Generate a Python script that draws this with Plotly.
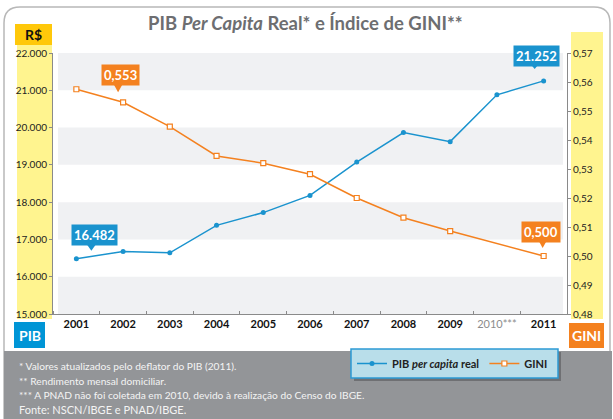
import plotly.graph_objects as go

# ---------------- data ----------------
years = ["2001", "2002", "2003", "2004", "2005", "2006", "2007", "2008", "2009", "2010", "2011"]
year_labels = ["2001", "2002", "2003", "2004", "2005", "2006", "2007", "2008", "2009", "2010***", "2011"]
pib = [16482, 16677, 16642, 17378, 17720, 18180, 19074, 19865, 19623, 20878, 21252]
gini = [0.5575, 0.553, 0.5446, 0.5345, 0.532, 0.5282, 0.520, 0.5132, 0.5086, None, 0.500]

title_text = "PIB <i>Per Capita</i> Real* e Índice de GINI**"
notes = [
    "* Valores atualizados pelo deflator do PIB (2011).",
    "** Rendimento mensal domiciliar.",
    "*** A PNAD não foi coletada em 2010, devido à realização do Censo do IBGE.",
]
source = "Fonte: NSCN/IBGE e PNAD/IBGE."

xpos = list(range(len(years)))

# ---------------- layout helpers ----------------
W, H = 613, 419
L, R, T, B = 53, 46, 53, 105
PW, PH = W - L - R, H - T - B

def px(x):
    return (x - L) / PW

def py(y):
    return (H - B - y) / PH

BLUE = "#1A93CE"
ORANGE = "#F4811F"
FONT = "Lato"

fig = go.Figure()

fig.add_trace(go.Scatter(
    x=xpos, y=pib, name="PIB <i>per capita</i> real", mode="lines+markers",
    line=dict(color=BLUE, width=1.5), marker=dict(color=BLUE, size=5, symbol="circle"),
    yaxis="y"))
fig.add_trace(go.Scatter(
    x=xpos, y=gini, name="GINI", mode="lines+markers", connectgaps=True,
    line=dict(color=ORANGE, width=1.5),
    marker=dict(color="white", size=5, symbol="square", line=dict(color=ORANGE, width=1.2)),
    yaxis="y2"))

shapes = []
# outer rounded panel border
r = 16
x0, y0, x1, y1 = 4, 7, 610, 430
path = (f"M{px(x0)},{py(y1)} L{px(x0)},{py(y0 + r)} Q{px(x0)},{py(y0)} {px(x0 + r)},{py(y0)} "
        f"L{px(x1 - r)},{py(y0)} Q{px(x1)},{py(y0)} {px(x1)},{py(y0 + r)} L{px(x1)},{py(y1)}")
shapes.append(dict(type="path", xref="paper", yref="paper", path=path,
                   line=dict(color="#B8B8B8", width=1.5), layer="below"))
# footer grey band
shapes.append(dict(type="rect", xref="paper", yref="paper", x0=px(4), x1=px(612), y0=py(351), y1=py(421),
                   fillcolor="#939598", line=dict(width=0), layer="below"))
# yellow axis bands
shapes.append(dict(type="rect", xref="paper", yref="paper", x0=px(17), x1=px(52), y0=py(45), y1=py(319),
                   fillcolor="#FFF48F", line=dict(width=0), layer="below"))
shapes.append(dict(type="rect", xref="paper", yref="paper", x0=px(571), x1=px(603), y0=py(32), y1=py(319),
                   fillcolor="#FFF48F", line=dict(width=0), layer="below"))
# axis title boxes
shapes.append(dict(type="rect", xref="paper", yref="paper", x0=px(15), x1=px(52), y0=py(24), y1=py(45),
                   fillcolor="#FFC80A", line=dict(width=0), layer="below"))
shapes.append(dict(type="rect", xref="paper", yref="paper", x0=px(14), x1=px(45), y0=py(322), y1=py(348),
                   fillcolor="#0095D6", line=dict(width=0), layer="below"))
shapes.append(dict(type="rect", xref="paper", yref="paper", x0=px(569), x1=px(604), y0=py(323), y1=py(348),
                   fillcolor="#F4811F", line=dict(width=0), layer="below"))
# alternating background bands
for lo in [21000, 19000, 17000, 15000]:
    shapes.append(dict(type="rect", xref="paper", yref="y", x0=px(58), x1=px(563), y0=lo, y1=lo + 1000,
                       fillcolor="#F0F1F3", line=dict(width=0), layer="below"))
# legend box with shadow
shapes.append(dict(type="rect", xref="paper", yref="paper", x0=px(354), x1=px(561), y0=py(352), y1=py(381),
                   fillcolor="#6F7073", line=dict(width=0), layer="below"))
shapes.append(dict(type="rect", xref="paper", yref="paper", x0=px(351), x1=px(558), y0=py(349), y1=py(378),
                   fillcolor="#B9DEEA", line=dict(color="#2C9AD5", width=1.5), layer="below"))

annotations = []
def label(text, x, y, size, color, xanchor="center", weight="normal"):
    annotations.append(dict(text=text, xref="paper", yref="paper", x=px(x), y=py(y),
                            xanchor=xanchor, yanchor="middle", showarrow=False,
                            font=dict(family=FONT, size=size, color=color, weight=weight)))

label(title_text, 305, 23, 18.5, "#6D6E71", weight="bold")
label("<b>R$</b>", 33.5, 34.5, 14, "#111")
label("<b>PIB</b>", 29.5, 335, 14, "white")
label("<b>GINI</b>", 586.5, 335.5, 14, "white")
for i, t in enumerate(notes):
    label(t, 17, 366 + 14.5 * i, 10.2, "#F4F4F4", xanchor="left")
label(source, 17, 409, 11, "#F4F4F4", xanchor="left")

# value callouts
def fmt_pib(v):
    return f"{v:,.0f}".replace(",", ".")

def fmt_gini(v):
    return f"{v:.3f}".replace(".", ",")

callouts = [
    (0, pib[0], "y", fmt_pib(pib[0]), BLUE, 18, 23.5, "M10,15 L20,15 L15,8 Z"),
    (1, gini[1], "y2", fmt_gini(gini[1]), ORANGE, -3, 27, "M-10,19 L0,19 L-5,10 Z"),
    (10, pib[10], "y", fmt_pib(pib[10]), BLUE, -7.5, 25, "M-14,18 L-4,18 L-9,12 Z"),
    (10, gini[10], "y2", fmt_gini(gini[10]), ORANGE, -2.5, 24.5, "M-6,17 L4,17 L-1,8 Z"),
]
for xi, yv, yr, txt, col, xs, ys, tri in callouts:
    annotations.append(dict(text=f"<b>{txt}</b>", xref="x", yref=yr, x=xpos[xi], y=yv,
                            xanchor="center", yanchor="middle",
                            xshift=xs, yshift=ys, showarrow=False, bgcolor=col, borderpad=2,
                            font=dict(family=FONT, size=13, color="white")))
    shapes.append(dict(type="path", xref="x", yref=yr, xsizemode="pixel", ysizemode="pixel",
                       xanchor=xpos[xi], yanchor=yv, path=tri, fillcolor=col, line=dict(width=0)))

ticktext = [f"<span style='color:#8C8C8C'>{lab}</span>" if "*" in lab else f"<b>{lab}</b>"
            for lab in year_labels]

fig.update_layout(
    width=W, height=H, autosize=False,
    margin=dict(l=L, r=R, t=T, b=B, pad=0),
    paper_bgcolor="white", plot_bgcolor="white",
    separators=",.",
    font=dict(family=FONT, color="#222"),
    showlegend=True,
    legend=dict(orientation="h", x=px(352), y=py(363.5), xanchor="left", yanchor="middle",
                bgcolor="rgba(0,0,0,0)", borderwidth=0,
                font=dict(family=FONT, size=11, color="#222", weight="bold"),
                itemwidth=30, tracegroupgap=0),
    xaxis=dict(range=[-0.5, len(years) - 0.5], tickvals=xpos, ticktext=ticktext, showgrid=False,
               zeroline=False, showline=True, linecolor="#8A8A8A", linewidth=1,
               ticks="", automargin=False,
               minor=dict(tick0=0.5, dtick=1, ticks="inside", ticklen=3, tickcolor="#8A8A8A", showgrid=False),
               tickfont=dict(family=FONT, size=11, color="#111")),
    yaxis=dict(range=[15000, 22000], dtick=1000, tickformat=",.0f", showgrid=False, zeroline=False,
               showline=True, linecolor="#8A8A8A", linewidth=1, ticks="outside", ticklen=3,
               tickcolor="#8A8A8A", automargin=False, tickfont=dict(family=FONT, size=10, color="#222")),
    yaxis2=dict(range=[0.48, 0.57], dtick=0.01, tickformat=".2f", overlaying="y", side="right",
                showgrid=False, zeroline=False, showline=True, linecolor="#8A8A8A", linewidth=1,
                ticks="outside", ticklen=3, tickcolor="#8A8A8A", automargin=False,
                tickfont=dict(family=FONT, size=10, color="#222")),
    shapes=shapes, annotations=annotations,
)

fig.write_html("out.html", config={"displayModeBar": False},
               post_script="document.body.style.margin='0';")
